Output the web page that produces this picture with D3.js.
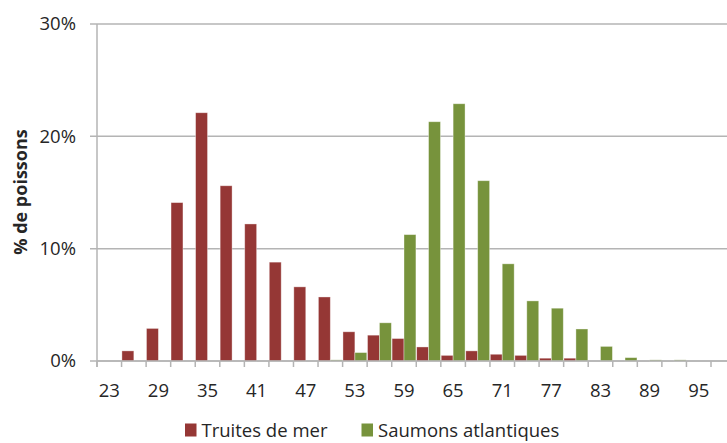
<!DOCTYPE html>
<html>
<head>
<meta charset="utf-8">
<script src="https://cdn.jsdelivr.net/npm/d3@7"></script>
<style>
  body { margin: 0; background: #fff; }
  text { font-family: "Open Sans", sans-serif; fill: #262626; }
</style>
</head>
<body>
<script>
  // Classes de taille (cm), pas de 3
  const tailles = [23, 26, 29, 32, 35, 38, 41, 44, 47, 50, 53, 56, 59, 62, 65, 68, 71, 74, 77, 80, 83, 86, 89, 92, 95, 98];
  // % de poissons par classe
  const truites = [0, 0.9, 2.9, 14.1, 22.1, 15.6, 12.2, 8.8, 6.6, 5.7, 2.6, 2.3, 2.0, 1.25, 0.5, 0.9, 0.6, 0.5, 0.25, 0.25, 0, 0, 0, 0, 0, 0];
  const saumons = [0, 0, 0, 0, 0, 0, 0, 0, 0, 0.1, 0.75, 3.4, 11.25, 21.3, 22.9, 16.05, 8.65, 5.35, 4.7, 2.85, 1.3, 0.3, 0.1, 0.1, 0, 0];
  const yTicks = [0, 10, 20, 30];
  const tickLabels = [23, 29, 35, 41, 47, 53, 59, 65, 71, 77, 83, 89, 95];
  const series = [
    { name: "Truites de mer", values: truites, color: "#953735" },
    { name: "Saumons atlantiques", values: saumons, color: "#77933c" }
  ];

  (function() {
    "use strict";

    const W = 727, H = 443;
    const mLeft = 97, mTop = 24, mBottom = 361;
    const bandW = (711 - mLeft) / 25;

    const svg = d3.select("body").append("svg")
      .attr("width", W)
      .attr("height", H);

    /***** Échelles *****/
    const x = d3.scaleBand().domain(tailles).range([mLeft, mLeft + bandW * tailles.length]).padding(0);
    const xSub = d3.scaleBand().domain(series.map(s => s.name)).range([0, x.bandwidth()]).paddingOuter(0.03);
    const y = d3.scaleLinear().domain([0, 30]).range([mBottom, mTop]);

    // Grille horizontale
    svg.append("g")
      .selectAll("line")
      .data(yTicks)
      .join("line")
      .attr("x1", mLeft - 7)
      .attr("x2", W)
      .attr("y1", d => y(d))
      .attr("y2", d => y(d))
      .attr("stroke", "#b4b4b4")
      .attr("stroke-width", 1.5);

    // Axe vertical
    svg.append("line")
      .attr("x1", mLeft).attr("x2", mLeft)
      .attr("y1", mTop).attr("y2", mBottom + 6)
      .attr("stroke", "#b4b4b4")
      .attr("stroke-width", 1.5);

    // Labels axe Y
    svg.append("g")
      .selectAll("text")
      .data(yTicks)
      .join("text")
      .attr("x", 76)
      .attr("y", d => y(d))
      .attr("dy", "0.35em")
      .attr("text-anchor", "end")
      .style("font-size", "18.5px")
      .text(d => d + "%");

    // Barres
    series.forEach(s => {
      svg.append("g")
        .selectAll("rect")
        .data(tailles.map((t, i) => ({ t: t, v: s.values[i] })).filter(d => d.v > 0))
        .join("rect")
        .attr("x", d => x(d.t) + xSub(s.name))
        .attr("width", xSub.bandwidth())
        .attr("y", d => y(d.v))
        .attr("height", d => mBottom - y(d.v))
        .attr("fill", s.color)
        .attr("stroke", "#ffffff")
        .attr("stroke-opacity", 0.45)
        .attr("stroke-width", 0.8);
    });

    // Axe horizontal et graduations aux limites des classes
    svg.append("line")
      .attr("x1", mLeft).attr("x2", W)
      .attr("y1", mBottom).attr("y2", mBottom)
      .attr("stroke", "#b4b4b4")
      .attr("stroke-width", 1.5);

    svg.append("g")
      .selectAll("line")
      .data(tailles)
      .join("line")
      .attr("x1", d => x(d))
      .attr("x2", d => x(d))
      .attr("y1", mBottom)
      .attr("y2", mBottom + 6)
      .attr("stroke", "#b4b4b4")
      .attr("stroke-width", 1.5);

    svg.append("g")
      .selectAll("text")
      .data(tickLabels)
      .join("text")
      .attr("x", d => x(d) + x.bandwidth() / 2)
      .attr("y", 396.5)
      .attr("text-anchor", "middle")
      .style("font-size", "18.5px")
      .text(d => d);

    // Titre axe Y
    svg.append("text")
      .attr("transform", "translate(27,192) rotate(-90)")
      .attr("text-anchor", "middle")
      .style("font-size", "18px")
      .style("font-weight", "bold")
      .text("% de poissons");

    /***** Légende *****/
    const legendPos = [185, 361.5];
    const legend = svg.append("g")
      .selectAll("g")
      .data(series)
      .join("g")
      .attr("transform", (d, i) => "translate(" + legendPos[i] + ",0)");

    legend.append("rect")
      .attr("x", 0)
      .attr("y", 423.5)
      .attr("width", 11.5)
      .attr("height", 13)
      .attr("fill", d => d.color);

    legend.append("text")
      .attr("x", 16.5)
      .attr("y", 437)
      .style("font-size", "18.5px")
      .text(d => d.name);
  })();
</script>
</body>
</html>
